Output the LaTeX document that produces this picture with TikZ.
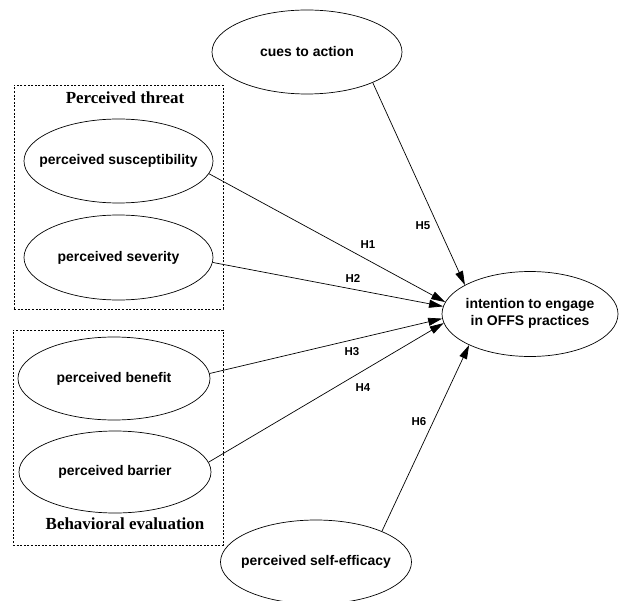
\documentclass[tikz,border=0pt]{standalone}
\usepackage{fontspec}
\setmainfont{Liberation Sans}
\newfontfamily\serifbf{Liberation Serif}
\usetikzlibrary{arrows.meta,shapes.geometric}
\newcommand{\zw}[1]{\makebox[0pt]{#1}}
\begin{document}
\begin{tikzpicture}[x=1bp,y=-1bp,
  oval/.style={draw,ellipse,line width=0.7bp,inner sep=0pt,align=center,
    font=\fontsize{14}{17}\selectfont\bfseries},
  group/.style={draw,line width=0.9bp,dash pattern=on 2bp off 1.6bp},
  grouptitle/.style={font=\fontsize{17}{20}\selectfont\serifbf\bfseries,inner sep=0pt},
  hyp/.style={font=\fontsize{11.5}{13}\selectfont\bfseries,inner sep=0pt},
  link/.style={line width=0.7bp,-{Triangle[length=14bp,width=8bp]}}]
\useasboundingbox (0,0) rectangle (619,601);
% groups
\node[group,minimum width=209bp,minimum height=224bp,inner sep=0pt] (threatbox) at (118.5,197) {};
\node[group,minimum width=210bp,minimum height=215bp,inner sep=0pt] (behavbox) at (118,437.5) {};
\node[grouptitle] (threattitle) at (125,98) {Perceived threat};
\node[grouptitle] (behavtitle) at (125,524) {Behavioral evaluation};
% nodes
\node[oval,minimum width=190bp,minimum height=84bp] (cues) at (307,52) {\zw{cues to action}};
\node[oval,minimum width=189bp,minimum height=84bp] (sus) at (118.5,161) {\zw{perceived susceptibility}};
\node[oval,minimum width=189bp,minimum height=85bp] (sev) at (118.5,257.5) {\zw{perceived severity}};
\node[oval,minimum width=192bp,minimum height=83bp] (ben) at (114,378.5) {\zw{perceived benefit}};
\node[oval,minimum width=192bp,minimum height=82bp] (bar) at (115,472) {\zw{perceived barrier}};
\node[oval,minimum width=176bp,minimum height=85bp] (int) at (530,314) {\zw{\begin{tabular}{@{}c@{}}intention to engage\\in OFFS practices\end{tabular}}};
\node[oval,minimum width=191bp,minimum height=84bp] (self) at (316,562) {\zw{perceived self-efficacy}};
% links
\draw[link] (sus.-8) -- (int.172);
\draw[link] (sev.-3) -- (int.175.5);
\draw[link] (ben.3) -- (int.183);
\draw[link] (bar.6) -- (int.186);
\draw[link] (cues.-25) -- (int.156.7);
\draw[link] (self.25) -- (int.207);
% labels
\node[hyp] (h1) at (368,245) {H1};
\node[hyp] (h2) at (353,278) {H2};
\node[hyp] (h3) at (352,352) {H3};
\node[hyp] (h4) at (363,388) {H4};
\node[hyp] (h5) at (423,226) {H5};
\node[hyp] (h6) at (419,422) {H6};
\end{tikzpicture}
\end{document}
